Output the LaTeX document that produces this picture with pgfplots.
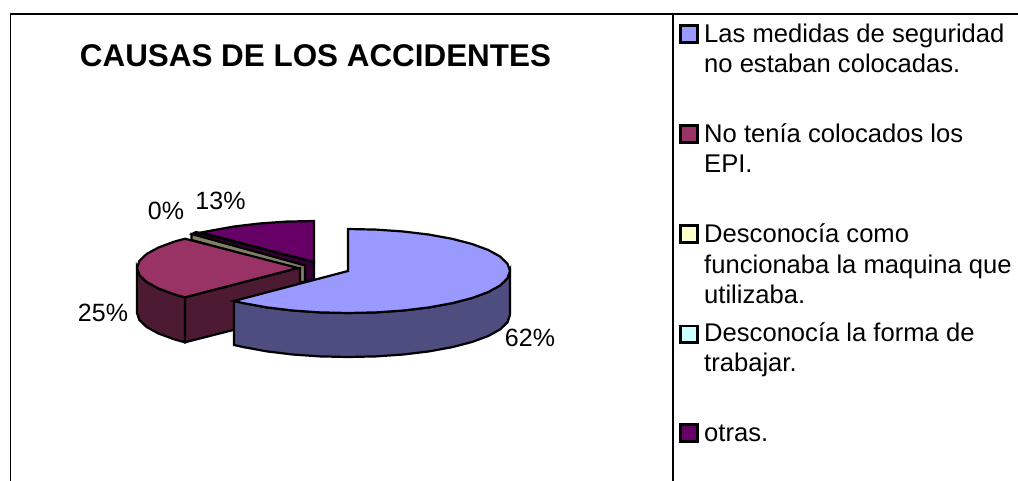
\documentclass[border=0pt]{standalone}
\usepackage{pgfplots}
\pgfplotsset{compat=1.18}
\usepackage{fontspec}
\setmainfont{Liberation Sans}
\definecolor{blueT}{HTML}{9999FF}
\definecolor{blueS}{HTML}{4D4D80}
\definecolor{marT}{HTML}{993366}
\definecolor{marS}{HTML}{4D1A33}
\definecolor{purT}{HTML}{660066}
\definecolor{purS}{HTML}{330033}
\definecolor{oliS}{HTML}{808066}
\definecolor{yelL}{HTML}{FFFFCC}
\definecolor{cyaL}{HTML}{CCFFFF}
\tikzset{
  lab/.style={anchor=base,font=\fontsize{25}{28}\selectfont,inner sep=0pt},
  leg/.style={anchor=base west,font=\fontsize{25.6}{28}\selectfont,inner sep=0pt},
}
\begin{document}
\begin{tikzpicture}
\begin{axis}[
  width=1018pt,height=481pt,scale only axis,hide axis,
  xmin=0,xmax=1018,ymin=0,ymax=481,y dir=reverse,
  no markers,
  every axis plot/.append style={line width=2.2pt,draw=black,forget plot},
]
% background
\addplot[draw=none,fill=white] coordinates {(0,0)(1018,0)(1018,481)(0,481)} --cycle;
% frame
\addplot[line width=1.8pt] coordinates {(10.5,481)(10.5,14)(1018,14)};
\addplot[line width=1.8pt] coordinates {(672.7,14)(672.7,481)};
% "otras." slice side and top
\addplot[fill=purS] coordinates {(196,232)(314,262)(314,280)(305,281)(305,266)(192,234)} --cycle;
\addplot[fill=purT] coordinates {(314,262)(314,221)(286.2,221.6)(259.3,223.5)(234,226.5)(211.2,230.6)(201,232.5)} --cycle;
% 0% slice
\addplot[fill=oliS] coordinates {(191.5,234)(305,265.5)(305,282)(299.5,282)(299.5,270)(191.5,240)} --cycle;
% maroon side faces
\addplot[fill=marS] coordinates {(185,297.3)(298,268)(300,268)(300,313)(185,342.3)} --cycle;
\addplot[fill=marS] coordinates {(185,297.3)(174.4,294.4)(158.4,288.5)(146.6,282)(139.4,275.1)(137,268)(137,313)(139.4,320.1)(146.6,327)(158.4,333.5)(174.4,339.4)(185,342.3)} --cycle;
% maroon top
\addplot[fill=marT] coordinates {(298,268)(185,297.3)(174.4,294.4)(158.4,288.5)(146.6,282)(139.4,275.1)(137,268)(139.4,260.9)(146.6,254)(158.4,247.5)(174.4,241.6)(185,238.7)} --cycle;
% blue side
\addplot[fill=blueS] coordinates {(510,271)(507.5,278.3)(500.2,285.4)(488.3,292)(472.1,298)(452.1,303.2)(429,307.4)(403.4,310.5)(376.1,312.4)(348,313)(319.9,312.4)(292.6,310.5)(267,307.4)(243.9,303.2)(234,301)(234,345)(243.9,347.2)(267,351.4)(292.6,354.5)(319.9,356.4)(348,357)(376.1,356.4)(403.4,354.5)(429,351.4)(452.1,347.2)(472.1,342)(488.3,336)(500.2,329.4)(507.5,322.3)(510,315)} --cycle;
% blue top
\addplot[fill=blueT] coordinates {(348,271)(348,229)(376.1,229.6)(403.4,231.5)(429,234.6)(452.1,238.8)(472.1,244)(488.3,250)(500.2,256.6)(507.5,263.7)(510,271)(507.5,278.3)(500.2,285.4)(488.3,292)(472.1,298)(452.1,303.2)(429,307.4)(403.4,310.5)(376.1,312.4)(348,313)(319.9,312.4)(292.6,310.5)(267,307.4)(243.9,303.2)(234,301)} --cycle;
% legend keys
\addplot[fill=blueT] coordinates {(680.5,25.5)(697.5,25.5)(697.5,42.5)(680.5,42.5)} --cycle;
\addplot[fill=marT] coordinates {(680.5,125.5)(697.5,125.5)(697.5,142.5)(680.5,142.5)} --cycle;
\addplot[fill=yelL] coordinates {(680.5,225.5)(697.5,225.5)(697.5,242.5)(680.5,242.5)} --cycle;
\addplot[fill=cyaL] coordinates {(680.5,326)(697.5,326)(697.5,342.5)(680.5,342.5)} --cycle;
\addplot[fill=purT] coordinates {(680.5,424.5)(697.5,424.5)(697.5,441.5)(680.5,441.5)} --cycle;
% title
\node[lab,font=\fontsize{31.4}{36}\selectfont\bfseries] at (axis cs:315.5,67) {CAUSAS DE LOS ACCIDENTES};
% data labels
\node[lab] at (axis cs:220.5,209.3) {13\%};
\node[lab] at (axis cs:166,220) {0\%};
\node[lab] at (axis cs:103,321) {25\%};
\node[lab] at (axis cs:530,346.7) {62\%};
% legend text
\node[leg] at (axis cs:704,42.7) {Las medidas de seguridad};
\node[leg] at (axis cs:704,72.7) {no estaban colocadas.};
\node[leg] at (axis cs:704,142.7) {No tenía colocados los};
\node[leg] at (axis cs:704,172.7) {EPI.};
\node[leg] at (axis cs:704,243) {Desconocía como};
\node[leg] at (axis cs:704,273) {funcionaba la maquina que};
\node[leg] at (axis cs:704,303) {utilizaba.};
\node[leg] at (axis cs:704,341.7) {Desconocía la forma de};
\node[leg] at (axis cs:704,371.7) {trabajar.};
\node[leg] at (axis cs:704,441.7) {otras.};
\end{axis}
\end{tikzpicture}
\end{document}
